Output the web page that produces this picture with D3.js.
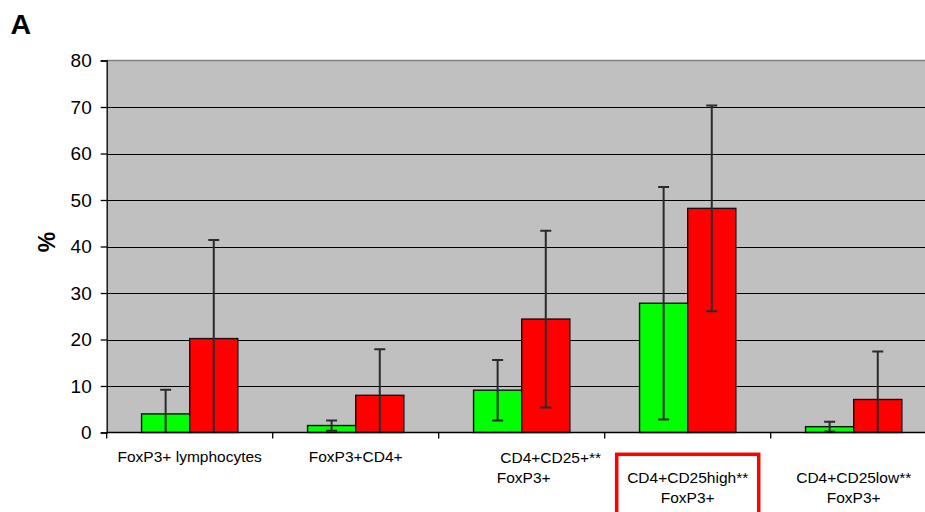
<!DOCTYPE html>
<html>
<head>
<meta charset="utf-8">
<script src="https://cdn.jsdelivr.net/npm/d3@7"></script>
<style>
  html, body { margin: 0; padding: 0; background: #fff; }
  svg { display: block; font-family: "Liberation Sans", Arial, sans-serif; }
</style>
</head>
<body>
<svg id="chart" width="925" height="512"></svg>
<script>
// Category labels (one entry per text line)
const categories = [
  ["FoxP3+ lymphocytes"],
  ["FoxP3+CD4+"],
  ["CD4+CD25+**", "FoxP3+"],
  ["CD4+CD25high**", "FoxP3+"],
  ["CD4+CD25low**", "FoxP3+"]
];
const seriesNames = ["green", "red"];
const greenValues = [4.0, 1.5, 9.1, 27.8, 1.25];
const greenErrors = [5.2, 1.1, 6.5, 25.0, 1.05];
const redValues   = [20.2, 8.0, 24.4, 48.2, 7.1];
const redErrors   = [21.2, 9.9, 19.0, 22.1, 10.3];
const yTicks = [0, 10, 20, 30, 40, 50, 60, 70, 80];
const highlighted = 3;

const colors = { green: "#00ff00", red: "#ff0000" };

const svg = d3.select("#chart");
const plot = { left: 106.7, right: 936.7, top: 60.5, bottom: 432.5 };

const x = d3.scaleBand()
  .domain(d3.range(categories.length))
  .range([plot.left, plot.right])
  .padding(0);
const step = x.bandwidth();
const xs = d3.scaleBand()
  .domain(seriesNames)
  .range([step * 0.21, step * 0.79])
  .padding(0);
const y = d3.scaleLinear().domain([0, 80]).range([plot.bottom, plot.top]);

// Plot background
svg.append("rect")
  .attr("x", plot.left).attr("y", plot.top)
  .attr("width", plot.right - plot.left).attr("height", plot.bottom - plot.top)
  .attr("fill", "#c0c0c0");

// Top border in gray
svg.append("line")
  .attr("x1", plot.left).attr("x2", plot.right)
  .attr("y1", plot.top).attr("y2", plot.top)
  .attr("stroke", "#808080").attr("stroke-width", 1.5);

// Horizontal grid lines
svg.append("g").selectAll("line")
  .data(yTicks.filter(t => t > 0 && t < 80))
  .join("line")
  .attr("x1", plot.left).attr("x2", plot.right)
  .attr("y1", d => Math.round(y(d)) + 0.5).attr("y2", d => Math.round(y(d)) + 0.5)
  .attr("stroke", "#000").attr("stroke-width", 1.2);

// Bars
const rows = categories.map((c, i) => ({
  i,
  series: [
    { key: "green", v: greenValues[i], e: greenErrors[i] },
    { key: "red", v: redValues[i], e: redErrors[i] }
  ]
}));

const groups = svg.append("g").selectAll("g")
  .data(rows)
  .join("g")
  .attr("transform", d => `translate(${x(d.i)},0)`);

groups.selectAll("rect")
  .data(d => d.series)
  .join("rect")
  .attr("x", d => xs(d.key))
  .attr("y", d => y(d.v))
  .attr("width", xs.bandwidth())
  .attr("height", d => y(0) - y(d.v))
  .attr("fill", d => colors[d.key])
  .attr("stroke", "#111")
  .attr("stroke-width", 1.4);

// Error bars, clipped to the plot area
svg.append("clipPath").attr("id", "plotClip")
  .append("rect")
  .attr("x", plot.left).attr("y", plot.top - 5)
  .attr("width", plot.right - plot.left).attr("height", plot.bottom - plot.top + 5);

const err = svg.append("g").attr("clip-path", "url(#plotClip)")
  .selectAll("g")
  .data(rows.flatMap(r => r.series.map(s => ({ ...s, i: r.i }))))
  .join("g")
  .attr("transform", d => `translate(${x(d.i) + xs(d.key) + xs.bandwidth() / 2},0)`)
  .attr("stroke", "#2a2a2a").attr("stroke-width", 2);

err.append("line")
  .attr("x1", 0).attr("x2", 0)
  .attr("y1", d => y(d.v + d.e))
  .attr("y2", d => y(Math.max(d.v - d.e, 0)));
err.append("line")
  .attr("x1", -5.5).attr("x2", 5.5)
  .attr("y1", d => y(d.v + d.e)).attr("y2", d => y(d.v + d.e));
err.filter(d => d.v - d.e > 0).append("line")
  .attr("x1", -5.5).attr("x2", 5.5)
  .attr("y1", d => y(d.v - d.e)).attr("y2", d => y(d.v - d.e));

// Y axis
const yAxis = d3.axisLeft(y).tickValues(yTicks).tickSize(6).tickPadding(9);
const gy = svg.append("g").attr("transform", `translate(${plot.left},0)`).call(yAxis);
gy.select(".domain").attr("stroke", "#000").attr("stroke-width", 1.3);
gy.selectAll(".tick line").attr("stroke", "#000").attr("stroke-width", 1.3);
gy.selectAll(".tick text")
  .attr("font-family", "'Liberation Sans', Arial, sans-serif")
  .attr("font-size", 19).attr("fill", "#000");

// X axis baseline and category boundary ticks
svg.append("line")
  .attr("x1", plot.left).attr("x2", plot.right)
  .attr("y1", plot.bottom).attr("y2", plot.bottom)
  .attr("stroke", "#000").attr("stroke-width", 1.5);
svg.append("g").selectAll("line")
  .data(d3.range(categories.length + 1))
  .join("line")
  .attr("x1", d => plot.left + d * step).attr("x2", d => plot.left + d * step)
  .attr("y1", plot.bottom).attr("y2", plot.bottom + 6)
  .attr("stroke", "#000").attr("stroke-width", 1.3);

// Category labels (staggered rows, as laid out by the charting tool)
const labelLayout = [
  { y: 462, dx: [0] },
  { y: 462, dx: [0] },
  { y: 463, dx: [29, 2] },
  { y: 483, dx: [0, 0] },
  { y: 483, dx: [0, 0] }
];
const lab = svg.append("g")
  .attr("font-size", 15.5).attr("fill", "#000")
  .attr("text-anchor", "middle")
  .selectAll("text")
  .data(categories.map((lines, i) => ({ lines, i })))
  .join("text")
  .attr("x", d => x(d.i) + step / 2)
  .attr("y", d => labelLayout[d.i].y);
lab.selectAll("tspan")
  .data(d => d.lines.map((t, k) => ({ t, k, i: d.i })))
  .join("tspan")
  .attr("x", d => x(d.i) + step / 2 + labelLayout[d.i].dx[d.k])
  .attr("dy", d => d.k === 0 ? 0 : 19.5)
  .text(d => d.t);

// Highlight frame around one category label
svg.append("rect")
  .attr("x", x(highlighted) + step / 2 - 71)
  .attr("y", 454.3)
  .attr("width", 142)
  .attr("height", 70)
  .attr("fill", "none")
  .attr("stroke", "#ff0000")
  .attr("stroke-width", 3.5);

// Axis title
svg.append("text")
  .attr("transform", "translate(55,242) rotate(-90)")
  .attr("text-anchor", "middle")
  .attr("font-size", 23).attr("font-weight", "bold")
  .text("%");

// Panel letter
svg.append("text")
  .attr("x", 10.5).attr("y", 34.3)
  .attr("font-size", 28.5).attr("font-weight", "bold")
  .text("A");
</script>
</body>
</html>
